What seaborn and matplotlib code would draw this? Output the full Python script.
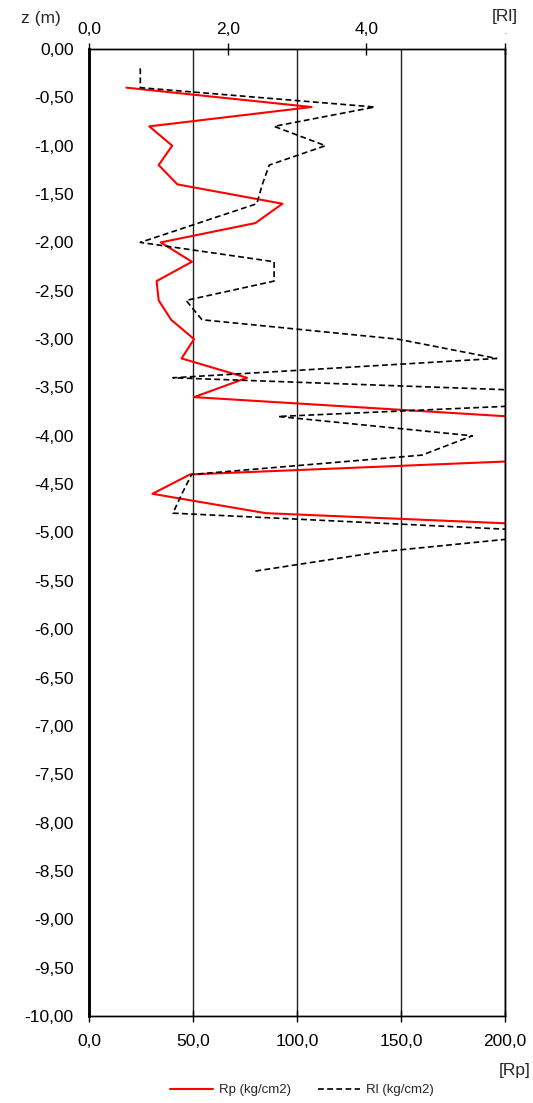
import numpy as np
import pandas as pd
import matplotlib
matplotlib.use('Agg')
import matplotlib.pyplot as plt
import seaborn as sns
from matplotlib.ticker import FuncFormatter

# Sondering data (diepte in m, Rp en Rl in kg/cm2)
z_rp = [-0.4, -0.6, -0.8, -1.0, -1.2, -1.4, -1.6, -1.8, -2.0, -2.2, -2.4, -2.6,
        -2.8, -3.0, -3.2, -3.4, -3.6, -3.8, -4.0, -4.2, -4.4, -4.6, -4.8, -5.0]
rp = [18, 107, 29, 40, 33.5, 42.5, 93, 80, 34.5, 49.5, 32.5, 33.5,
      39.5, 50.5, 44.5, 76, 50.5, 202, 280, 275, 48.5, 30.5, 85, 305]

z_rl = [-0.2, -0.4, -0.6, -0.8, -1.0, -1.2, -1.4, -1.6, -1.8, -2.0, -2.2, -2.4,
        -2.6, -2.8, -3.0, -3.2, -3.4, -3.6, -3.8, -4.0, -4.2, -4.4, -4.6, -4.8,
        -5.0, -5.2, -5.4]
rl = [0.74, 0.74, 4.12, 2.67, 3.41, 2.60, 2.50, 2.42, 1.58, 0.74, 2.67, 2.67,
      1.40, 1.63, 4.45, 5.88, 1.21, 9.0, 2.73, 5.53, 4.80, 1.48, 1.34, 1.21,
      7.0, 4.2, 2.39]

rp_ticks = [0, 50, 100, 150, 200]
rl_ticks = [0, 2, 4, 6]
rl_ticklabels = ['0,0', '2,0', '4,0', '.']

df_rp = pd.DataFrame({'z': z_rp, 'Rp': rp})
df_rl = pd.DataFrame({'z': z_rl, 'Rl': rl})

sns.set_style('white')
plt.rcParams['font.family'] = ['Liberation Sans', 'DejaVu Sans']
fs = 12.5

fig = plt.figure(figsize=(5.33, 11.03), dpi=100)
ax = fig.add_axes([89 / 533, 1 - 1016 / 1103, 416 / 533, (1016 - 49) / 1103])

sns.lineplot(data=df_rp, x='Rp', y='z', sort=False, estimator=None, color='#ff0000',
             linewidth=1.5, ax=ax, label='Rp (kg/cm2)', legend=False)
ax.set_xlim(0, 200)
ax.set_ylim(-10, 0)
ax.set_xticks(rp_ticks)
ax.xaxis.set_major_formatter(FuncFormatter(lambda v, p: f'{v:.1f}'.replace('.', ',')))
ax.set_yticks(np.arange(-10, 0.01, 0.5))
ax.yaxis.set_major_formatter(FuncFormatter(lambda v, p: f'{abs(v):.2f}'.replace('.', ',') if abs(v) < 1e-9 else f'{v:.2f}'.replace('.', ',')))
ax.set_xlabel('')
ax.set_ylabel('')
ax.grid(axis='x', color='#222222', linewidth=1.0)
ax.grid(axis='y', visible=False)
ax.tick_params(direction='inout', length=8, width=1, labelsize=fs, colors='black')
ax.tick_params(axis='x', pad=9)
ax.tick_params(axis='y', pad=7)

ax2 = ax.twiny()
sns.lineplot(data=df_rl, x='Rl', y='z', sort=False, estimator=None, color='black',
             linewidth=1.2, linestyle=(0, (3.5, 2)), ax=ax2, label='Rl (kg/cm2)', legend=False)
ax2.set_xlim(0, 6)
ax2.set_xticks(rl_ticks)
ax2.set_xticklabels(rl_ticklabels)
ax2.get_xticklabels()[-1].set_fontsize(5)
ax2.set_xlabel('')
ax2.grid(False)
ax2.tick_params(direction='inout', length=8, width=1, labelsize=fs, colors='black', pad=5)
ax2.get_xticklabels()[-1].set_fontsize(5)

for a in (ax, ax2):
    for s in a.spines.values():
        s.set_color('black')
        s.set_linewidth(1.0)
    a.spines['left'].set_linewidth(1.8)

fig.text(41 / 533, 1 - 18 / 1103, 'z (m)', ha='center', va='center', fontsize=fs)
fig.text(505 / 533, 1 - 17 / 1103, '[Rl]', ha='center', va='center', fontsize=fs)
fig.text(515 / 533, 1 - 1070 / 1103, '[Rp]', ha='center', va='center', fontsize=fs)

h1, l1 = ax.get_legend_handles_labels()
h2, l2 = ax2.get_legend_handles_labels()
fig.legend(h1 + h2, l1 + l2, loc='center', bbox_to_anchor=(0.567, 1 - 1090 / 1103),
           ncol=2, frameon=False, fontsize=9.5, handlelength=3.2, handletextpad=0.5,
           columnspacing=2.0)

fig.savefig('out.png', dpi=100)
